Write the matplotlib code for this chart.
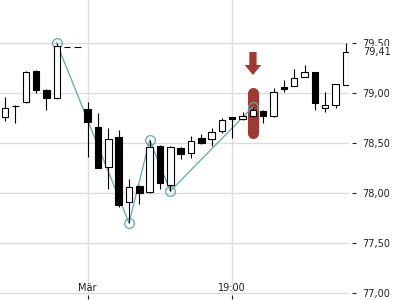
import numpy as np
import matplotlib
matplotlib.use('Agg')
import matplotlib.pyplot as plt
from matplotlib.ticker import FuncFormatter
from matplotlib.transforms import blended_transform_factory

# OHLC values, one candle per entry
opens  = [78.76, 78.87, 78.91, 79.22, 79.03, 78.95, 79.46, 79.46, 78.84, 78.66,
          78.26, 78.56, 77.91, 78.07, 78.01, 78.47, 78.08, 78.45, 78.40, 78.55,
          78.54, 78.62, 78.76, 78.74, 78.77, 78.82, 78.77, 79.06, 79.07, 79.16,
          79.21, 78.85, 78.88, 79.08]
highs  = [78.96, 78.88, 79.22, 79.23, 79.04, 79.50, 79.46, 79.46, 78.91, 78.80,
          78.65, 78.63, 78.14, 78.08, 78.53, 78.48, 78.47, 78.46, 78.57, 78.59,
          78.65, 78.75, 78.76, 78.81, 78.86, 78.83, 79.05, 79.13, 79.24, 79.28,
          79.21, 79.01, 79.09, 79.50]
lows   = [78.72, 78.70, 78.90, 79.00, 78.83, 78.94, 79.46, 79.46, 78.36, 78.25,
          78.04, 77.86, 77.70, 77.89, 78.00, 78.04, 78.02, 78.34, 78.35, 78.49,
          78.47, 78.60, 78.55, 78.73, 78.76, 78.70, 78.76, 79.01, 79.07, 79.16,
          78.83, 78.81, 78.85, 79.08]
closes = [78.85, 78.87, 79.21, 79.03, 78.95, 79.47, 79.46, 79.46, 78.71, 78.25,
          78.54, 77.88, 78.06, 78.00, 78.46, 78.10, 78.46, 78.39, 78.52, 78.50,
          78.61, 78.73, 78.74, 78.77, 78.83, 78.77, 79.01, 79.04, 79.15, 79.21,
          78.90, 78.88, 79.09, 79.41]

# zigzag pivots
zz_idx = [5, 12, 14, 16, 24]
zz_val = [79.50, 77.70, 78.53, 78.02, 78.86]

# signal marker
sig_idx = 24
sig_low, sig_high = 78.55, 79.06

xtick_pos = [8, 22]
xtick_lab = ['Mär', '19:00']
yticks = [77.0, 77.5, 78.0, 78.5, 79.0, 79.5]

teal = '#62a7ae'
red = '#9c3a33'

fig = plt.figure(figsize=(4, 3), dpi=100)
ax = fig.add_axes([0, 5 / 300, 349 / 400, 295 / 300])

n = len(opens)
x = np.arange(n)
o = np.array(opens); c = np.array(closes)
up = c >= o

# signal capsule + arrow
r = 0.055
ax.plot([sig_idx, sig_idx], [sig_low + r, sig_high - r], color=red, lw=8,
        solid_capstyle='round', zorder=1)
ax.arrow(sig_idx, sig_high + 0.35, 0, -0.23, width=0.7, head_width=1.6,
         head_length=0.10, length_includes_head=True, color=red, lw=0, zorder=1)

# zigzag
ax.plot(zz_idx, zz_val, color=teal, lw=0.9, zorder=2)
ax.plot(zz_idx, zz_val, 'o', ms=7, mfc='none', mec=teal, mew=0.9, zorder=2)

# candles
ax.vlines(x, lows, highs, color='black', lw=0.8, zorder=3)
ax.bar(x, np.abs(c - o), bottom=np.minimum(o, c), width=0.62,
       color=np.where(up, 'white', 'black'), edgecolor='black', lw=0.8, zorder=4)

ax.set_xlim(-0.49, 33.3)
ax.set_ylim(76.98, 79.93)

ax.set_xticks(xtick_pos)
ax.set_xticklabels(xtick_lab)
ax.set_yticks(yticks)
ax.yaxis.set_major_formatter(FuncFormatter(lambda v, p: f'{v:.2f}'.replace('.', ',')))
ax.yaxis.tick_right()
ax.spines['right'].set_position(('outward', 2.2))
for s in ax.spines.values():
    s.set_visible(False)
ax.tick_params(axis='y', length=3, width=0.8, pad=4.5, labelsize=7, colors='#222222')
ax.tick_params(axis='x', length=3, width=0.8, pad=-11.5, labelsize=7, colors='#222222')
ax.grid(True, color='#dcdcdc', lw=1)
ax.set_axisbelow(True)

# last price label
tr = blended_transform_factory(ax.transAxes, ax.transData)
ax.text(1.0 + 14 / 349, closes[-1], f'{closes[-1]:.2f}'.replace('.', ','),
        transform=tr, fontsize=7, color='#222222', va='center', ha='left',
        bbox=dict(fc='white', ec='none', pad=0.6), clip_on=False, zorder=5)

fig.savefig('out.png', dpi=100)
